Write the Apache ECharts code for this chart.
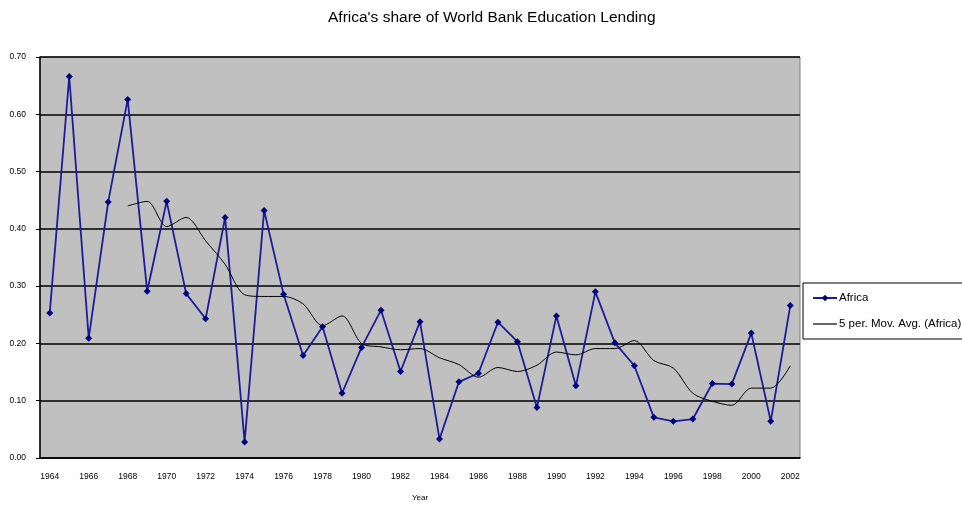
<!DOCTYPE html>
<html>
<head>
<meta charset="utf-8">
<script src="https://cdn.jsdelivr.net/npm/echarts@6/dist/echarts.min.js"></script>
<style>
html, body { margin: 0; padding: 0; background: #fff; }
#chart { width: 962px; height: 507px; }
</style>
</head>
<body>
<div id="chart"></div>
<script>
// years on the x axis
var years = ['1964','1965','1966','1967','1968','1969','1970','1971','1972','1973',
	'1974','1975','1976','1977','1978','1979','1980','1981','1982','1983',
	'1984','1985','1986','1987','1988','1989','1990','1991','1992','1993',
	'1994','1995','1996','1997','1998','1999','2000','2001','2002'];

// Africa's share
var africa = [0.253, 0.666, 0.209, 0.447, 0.626, 0.291, 0.448, 0.287, 0.243, 0.420,
	0.028, 0.432, 0.286, 0.179, 0.229, 0.113, 0.193, 0.258, 0.151, 0.238,
	0.033, 0.133, 0.148, 0.237, 0.203, 0.088, 0.248, 0.126, 0.290, 0.201,
	0.161, 0.071, 0.064, 0.068, 0.130, 0.129, 0.218, 0.064, 0.266];

// 5 period moving average line, starts at 1968
var movAvg = [null, null, null, null, 0.440, 0.448, 0.404, 0.420, 0.379, 0.338,
	0.285, 0.282, 0.282, 0.269, 0.231, 0.248, 0.200, 0.194, 0.189, 0.191,
	0.175, 0.163, 0.141, 0.158, 0.151, 0.162, 0.185, 0.180, 0.191, 0.191,
	0.205, 0.170, 0.157, 0.113, 0.099, 0.092, 0.122, 0.122, 0.161];

var font = 'Liberation Sans';

var chart = echarts.init(document.getElementById('chart'));
chart.setOption({
	animation: false,
	backgroundColor: '#ffffff',
	title: {
		text: "Africa's share of World Bank Education Lending",
		left: 323,
		top: 5,
		textStyle: {
			fontFamily: font,
			fontSize: 15.5,
			fontWeight: 'normal',
			color: '#000'
		}
	},
	legend: {
		orient: 'vertical',
		left: 803,
		top: 283,
		padding: [9, 30, 9, 9],
		itemGap: 14,
		itemWidth: 24,
		itemHeight: 8,
		borderColor: '#000',
		borderWidth: 1,
		backgroundColor: '#fff',
		textStyle: {
			fontFamily: font,
			fontSize: 11.5,
			color: '#000',
			padding: [0, 0, 0, -3]
		},
		data: [
			{ name: 'Africa' },
			{ name: '5 per. Mov. Avg. (Africa)', icon: 'path://M0,0L24,0L24,1.2L0,1.2Z' }
		]
	},
	grid: {
		left: 40,
		right: 162,
		top: 57,
		bottom: 44,
		show: true,
		backgroundColor: '#c0c0c0',
		borderColor: '#808080',
		borderWidth: 1
	},
	xAxis: {
		type: 'category',
		data: years,
		name: 'Year',
		nameLocation: 'middle',
		nameGap: 36,
		nameTextStyle: {
			fontFamily: font,
			fontSize: 8,
			color: '#000'
		},
		axisLine: { lineStyle: { color: '#000', width: 1.5 } },
		axisTick: {
			interval: 1,
			length: 4,
			lineStyle: { color: '#000' }
		},
		axisLabel: {
			interval: 1,
			fontFamily: font,
			fontSize: 8.5,
			color: '#000',
			margin: 14
		},
		splitLine: { show: false }
	},
	yAxis: {
		type: 'value',
		min: 0,
		max: 0.7,
		interval: 0.1,
		axisLine: { show: true, lineStyle: { color: '#000', width: 1.5 } },
		axisTick: { show: true, length: 4, lineStyle: { color: '#000' } },
		axisLabel: {
			fontFamily: font,
			fontSize: 8.5,
			color: '#000',
			margin: 14,
			formatter: function (v) { return v.toFixed(2); }
		},
		splitLine: { lineStyle: { color: '#000', width: 1.5 } }
	},
	series: [{
			name: 'Africa',
			type: 'line',
			data: africa,
			symbol: 'diamond',
			symbolSize: 7,
			lineStyle: { color: '#1c1c96', width: 1.8 },
			itemStyle: { color: '#000080' }
		}, {
			name: '5 per. Mov. Avg. (Africa)',
			type: 'line',
			data: movAvg,
			symbol: 'none',
			smooth: 0.3,
			lineStyle: { color: '#000', width: 1 },
			itemStyle: { color: '#000' }
		}
	]
});
</script>
</body>
</html>
